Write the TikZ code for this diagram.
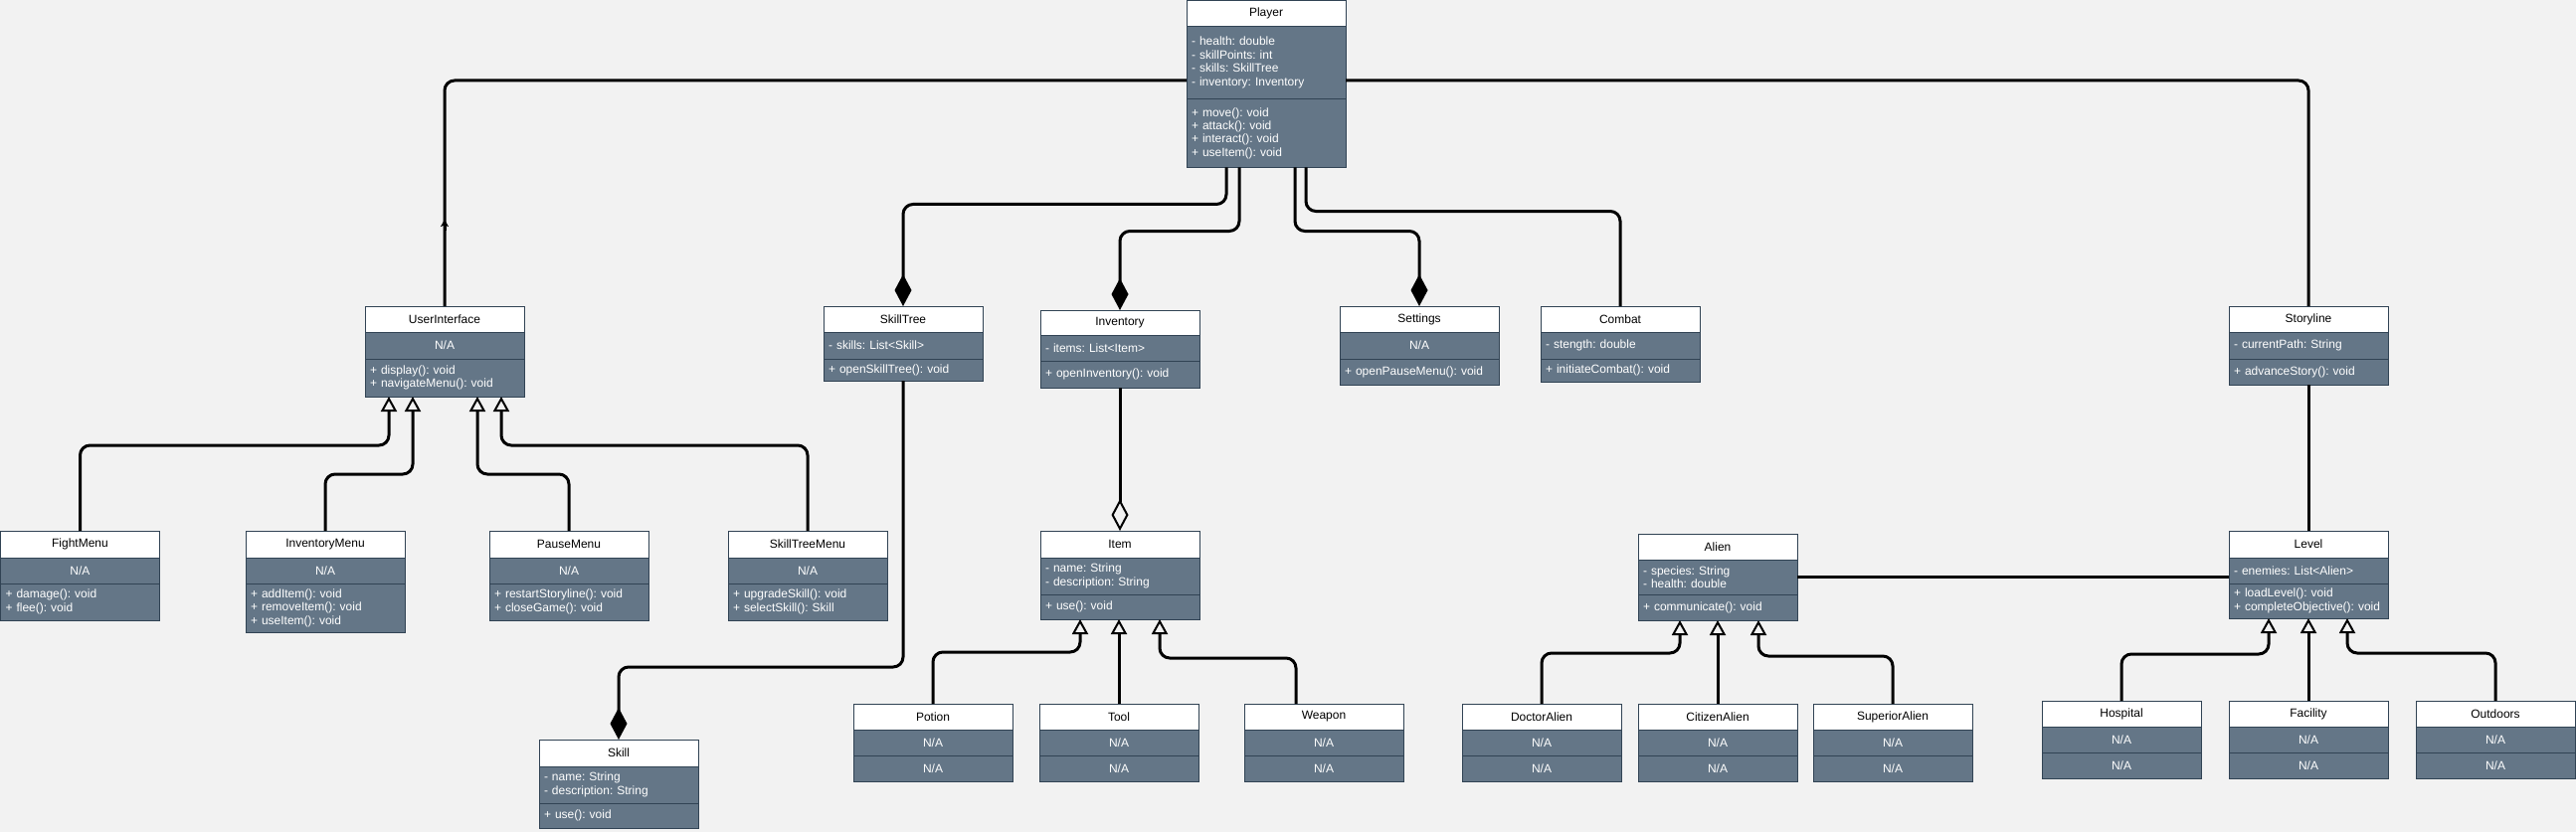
\documentclass[tikz,border=0pt]{standalone}
\usepackage{fontspec}
\setmainfont{Liberation Sans}
\usetikzlibrary{arrows.meta}
\definecolor{bg}{HTML}{F2F2F2}
\definecolor{secf}{HTML}{647687}
\definecolor{secd}{HTML}{314354}
\newcommand\clsfont{\fontsize{12}{13.4}\selectfont\frenchspacing}
\newcommand\na{\makebox[150pt]{N/A}}
\tikzset{
 hdr/.style={draw=secd, line width=1pt, fill=white, minimum width=160pt, anchor=north west, inner sep=0pt, outer sep=0pt, font=\clsfont, text=black},
 sec/.style={draw=secd, line width=1pt, fill=secf, text width=150pt, inner xsep=5pt, inner ysep=0pt, outer sep=0pt, anchor=north west, align=left, font=\clsfont, text=white},
 conn/.style={draw=black, line width=3pt, rounded corners=10pt},
 comp/.style={conn, -{Diamond[length=32pt,width=17pt]}},
 aggr/.style={conn, -{Diamond[open,length=32pt,width=17pt,line width=2pt]}},
 inh/.style={conn, -{Triangle[open,length=15pt,width=16pt,line width=2pt]}},
 smallarrow/.style={draw=black, line width=3pt, -{Stealth[length=7pt,width=8pt,inset=1.5pt]}},
}
% #1 name, #2 x, #3 y, #4 h1, #5 h2, #6 h3, #7 title, #8 attrs, #9 methods
\newcommand{\umlclass}[9]{%
 \node[hdr, minimum height=#4] (#1) at (#2,#3) {#7};
 \node[sec, minimum height=#5] (#1-a) at (#1.south west) {#8};
 \node[sec, minimum height=#6] (#1-m) at (#1-a.south west) {#9};
}
\begin{document}
\begin{tikzpicture}[x=1pt,y=-1pt]
\fill[bg, use as bounding box] (0,0) rectangle (2590,837);

% classes
\umlclass{player}{1193}{0.5}{26}{73}{69}{Player}{- health: double\\- skillPoints: int\\- skills: SkillTree\\- inventory: Inventory}{+ move(): void\\+ attack(): void\\+ interact(): void\\+ useItem(): void}
\umlclass{ui}{367}{308}{26}{27}{38}{UserInterface}{\na}{+ display(): void\\+ navigateMenu(): void}
\umlclass{skilltree}{828}{308}{26}{27}{22}{SkillTree}{- skills: List<Skill>}{+ openSkillTree(): void}
\umlclass{inventory}{1046}{312}{25}{26}{27}{Inventory}{- items: List<Item>}{+ openInventory(): void}
\umlclass{settings}{1347}{308}{26}{27}{26}{Settings}{\na}{+ openPauseMenu(): void}
\umlclass{combat}{1549}{308}{26}{27}{23}{Combat}{- stength: double}{+ initiateCombat(): void}
\umlclass{story}{2241}{308}{26}{27}{26}{Storyline}{- currentPath: String}{+ advanceStory(): void}

\umlclass{fight}{0.5}{534}{27}{26}{37}{FightMenu}{\na}{+ damage(): void\\+ flee(): void}
\umlclass{invmenu}{247}{534}{27}{26}{49}{InventoryMenu}{\na}{+ addItem(): void\\+ removeItem(): void\\+ useItem(): void}
\umlclass{pause}{492}{534}{27}{26}{37}{PauseMenu}{\na}{+ restartStoryline(): void\\+ closeGame(): void}
\umlclass{stmenu}{732}{534}{27}{26}{37}{SkillTreeMenu}{\na}{+ upgradeSkill(): void\\+ selectSkill(): Skill}
\umlclass{skill}{542}{744}{27}{37}{25}{Skill}{- name: String\\- description: String}{+ use(): void}

\umlclass{item}{1046}{534}{27}{37}{25}{Item}{- name: String\\- description: String}{+ use(): void}
\umlclass{potion}{858}{708}{26}{26}{26}{Potion}{\na}{\na}
\umlclass{tool}{1045}{708}{26}{26}{26}{Tool}{\na}{\na}
\umlclass{weapon}{1251}{708}{26}{26}{26}{Weapon}{\na}{\na}

\umlclass{alien}{1647}{537}{26}{35}{26}{Alien}{- species: String\\- health: double}{+ communicate(): void}
\umlclass{doctor}{1470}{708}{26}{26}{26}{DoctorAlien}{\na}{\na}
\umlclass{citizen}{1647}{708}{26}{26}{26}{CitizenAlien}{\na}{\na}
\umlclass{superior}{1823}{708}{26}{26}{26}{SuperiorAlien}{\na}{\na}

\umlclass{level}{2241}{534}{27}{26}{35}{Level}{- enemies: List<Alien>}{+ loadLevel(): void\\+ completeObjective(): void}
\umlclass{hospital}{2053}{705}{26}{26}{26}{Hospital}{\na}{\na}
\umlclass{facility}{2241}{705}{26}{26}{26}{Facility}{\na}{\na}
\umlclass{outdoors}{2429}{705}{26}{26}{26}{Outdoors}{\na}{\na}

% associations from Player
\draw[conn] (ui.north) -- (ui.north |- 0,81) -- (player-a.west |- 0,81);
\draw[smallarrow] (ui.north |- 0,232) -- (ui.north |- 0,221);
\draw[conn] (player-a.east |- 0,81) -- (story.north |- 0,81) -- (story.north);
\draw[comp] (player-m.south -| 1233,0) -- ++(0,37) -| (skilltree.north);
\draw[comp] (player-m.south -| 1246,0) -- ++(0,64) -| (inventory.north);
\draw[comp] (player-m.south -| 1302,0) -- ++(0,64) -| (settings.north);
\draw[conn] (player-m.south -| 1313,0) -- ++(0,44) -| (combat.north);
\draw[aggr] (inventory-m.south) -- (item.north);
\draw[comp] (skilltree-m.south) -- ++(0,288) -| (skill.north);
\draw[conn] (story-m.south) -- (level.north);
\draw[conn] (alien-a.east |- 0,580) -- (level-a.west |- 0,580);

% inheritance: menus
\draw[inh] (fight.north) -- (fight.north |- 0,448) -| (ui-m.south -| 391,0);
\draw[inh] (invmenu.north) -- (invmenu.north |- 0,477) -| (ui-m.south -| 415,0);
\draw[inh] (pause.north) -- (pause.north |- 0,477) -| (ui-m.south -| 480,0);
\draw[inh] (stmenu.north) -- (stmenu.north |- 0,448) -| (ui-m.south -| 504,0);
% inheritance: items
\draw[inh] (potion.north) -- (potion.north |- 0,656) -| (item-m.south -| 1086,0);
\draw[inh] (tool.north) -- (tool.north |- item-m.south);
\draw[inh] (weapon.north -| 1303,0) -- ++(0,-46) -| (item-m.south -| 1166,0);
% inheritance: aliens
\draw[inh] (doctor.north) -- (doctor.north |- 0,657) -| (alien-m.south -| 1689,0);
\draw[inh] (citizen.north) -- (citizen.north |- alien-m.south);
\draw[inh] (superior.north) -- (superior.north |- 0,660) -| (alien-m.south -| 1768,0);
% inheritance: levels
\draw[inh] (hospital.north) -- (hospital.north |- 0,658) -| (level-m.south -| 2281,0);
\draw[inh] (facility.north) -- (facility.north |- level-m.south);
\draw[inh] (outdoors.north) -- (outdoors.north |- 0,657) -| (level-m.south -| 2360,0);
\end{tikzpicture}
\end{document}
